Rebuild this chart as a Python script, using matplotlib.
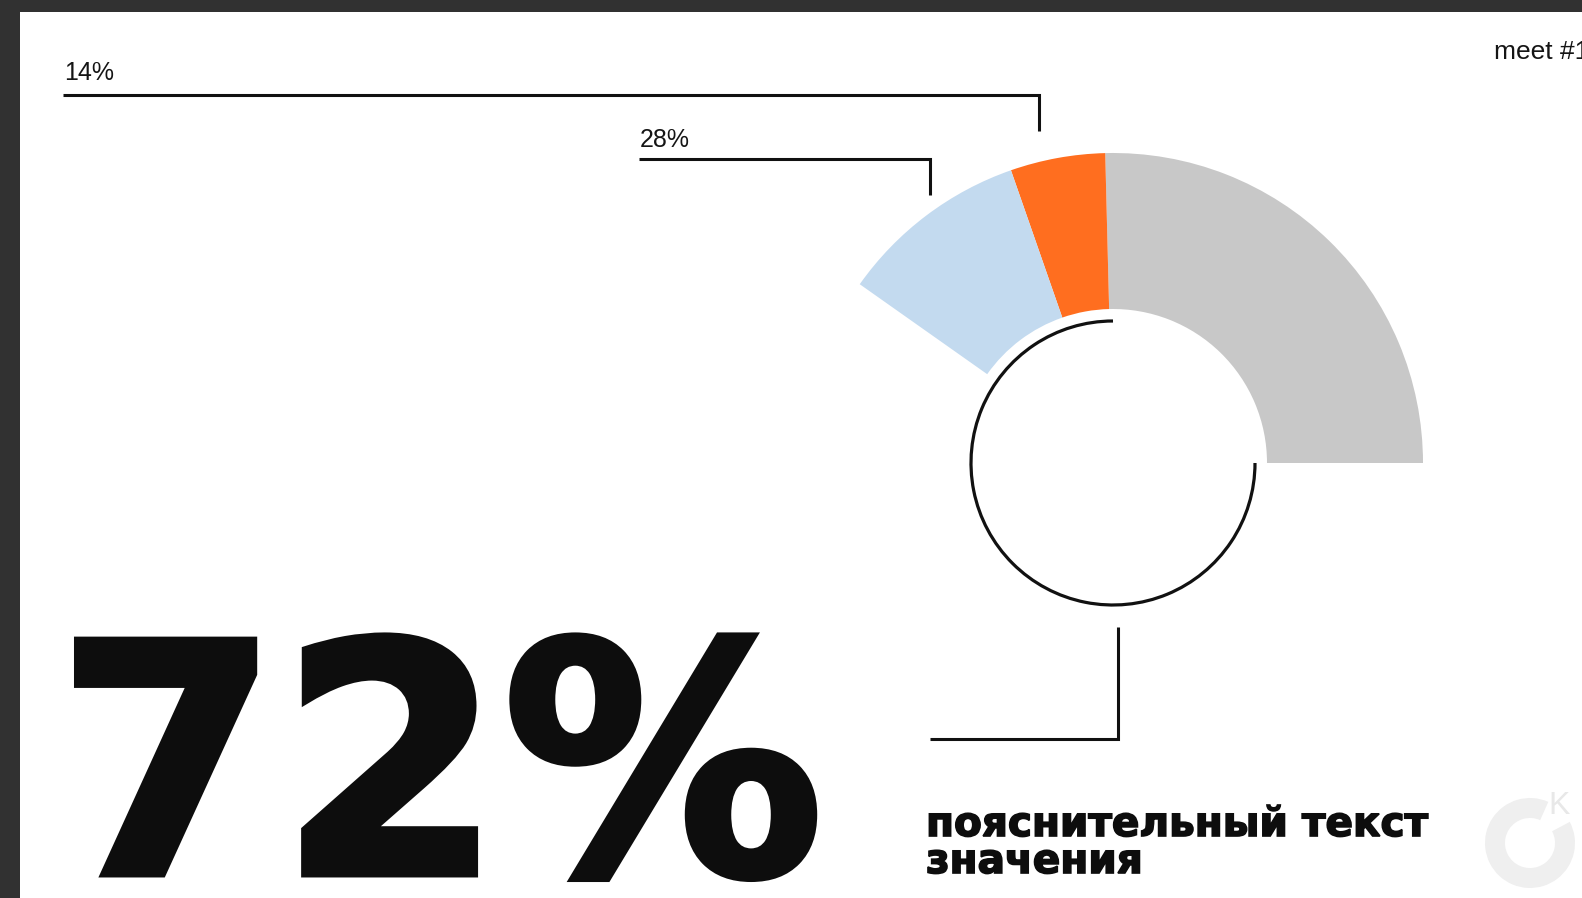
import matplotlib
matplotlib.use("Agg")
import matplotlib.pyplot as plt
from matplotlib.patches import Rectangle, Arc, Wedge
import matplotlib.patheffects as pe

# Slide data
segment_values = [72, 14, 28]            # grey, orange, blue (percent)
segment_colors = ['#c8c8c8', '#ff6e1f', '#c3daef']
caption_lines = ['пояснительный текст', 'значения']
header_text = 'meet #1'

W, H = 1582, 898
deg_per_pct = 1.27      # angular scale of the gauge


def Y(y):
    # layout is measured from the top edge, axes run bottom-up
    return H - y


fig = plt.figure(figsize=(W / 100, H / 100), dpi=100)
ax = fig.add_axes([0, 0, 1, 1])

# half-open donut
cx, cy = 1113, Y(463)
r_out, r_in = 310, 154
fracs = [v * deg_per_pct / 360 for v in segment_values]
ax.pie(fracs, colors=segment_colors, startangle=0, counterclock=True,
       normalize=False, radius=r_out, center=(cx, cy),
       wedgeprops=dict(width=r_out - r_in, linewidth=0))

ax.set_xlim(0, W)
ax.set_ylim(0, H)
ax.set_aspect('auto')
ax.axis('off')

# thin black ring inside the donut
ax.add_patch(Arc((cx, cy), 2 * 142, 2 * 142, theta1=90, theta2=360,
                 color='#111111', lw=2.3))

# leader lines
lw = 2.2
line_kw = dict(color='#111111', lw=lw, solid_joinstyle='miter', solid_capstyle='butt')
ax.plot([63, 1039, 1039], [Y(95), Y(95), Y(131)], **line_kw)
ax.plot([639, 930, 930], [Y(159), Y(159), Y(195)], **line_kw)
ax.plot([1118, 1118, 930], [Y(627), Y(739), Y(739)], **line_kw)

small_font = ['Liberation Sans', 'DejaVu Sans']
ax.text(64, Y(80), f'{segment_values[1]}%', fontsize=18, family=small_font,
        color='#151515', va='baseline', ha='left')
ax.text(640, Y(147), f'{segment_values[2]}%', fontsize=18, family=small_font,
        color='#151515', va='baseline', ha='left')
ax.text(1494, Y(59), header_text, fontsize=19, family=small_font,
        color='#151515', va='baseline', ha='left')

# headline value
ax.text(56, Y(874), f'{segment_values[0]}%', fontsize=231, family='DejaVu Sans',
        fontweight='bold', color='#0d0d0d', va='baseline', ha='left',
        path_effects=[pe.withStroke(linewidth=5, foreground='#0d0d0d',
                                    joinstyle='miter')])

# caption
for i, line in enumerate(caption_lines):
    ax.text(926, Y(836 + 37 * i), line, fontsize=29.2, family='DejaVu Sans',
            fontweight='bold', color='#0d0d0d', va='baseline', ha='left',
            path_effects=[pe.withStroke(linewidth=1.2, foreground='#0d0d0d',
                                        joinstyle='miter')])

# faint logo in the corner
ax.add_patch(Wedge((1530, Y(843)), 45, 66, 388, width=20, color='#efefef', lw=0))
ax.text(1548, Y(814), 'K', fontsize=23, family=small_font, color='#e8e8e8',
        va='baseline', ha='left')

# dark frame around the slide
ax.add_patch(Rectangle((0, 0), 20, H, color='#313131', lw=0, zorder=5))
ax.add_patch(Rectangle((0, Y(12)), W, 12, color='#313131', lw=0, zorder=5))

fig.savefig('out.png', dpi=100, facecolor='white')
